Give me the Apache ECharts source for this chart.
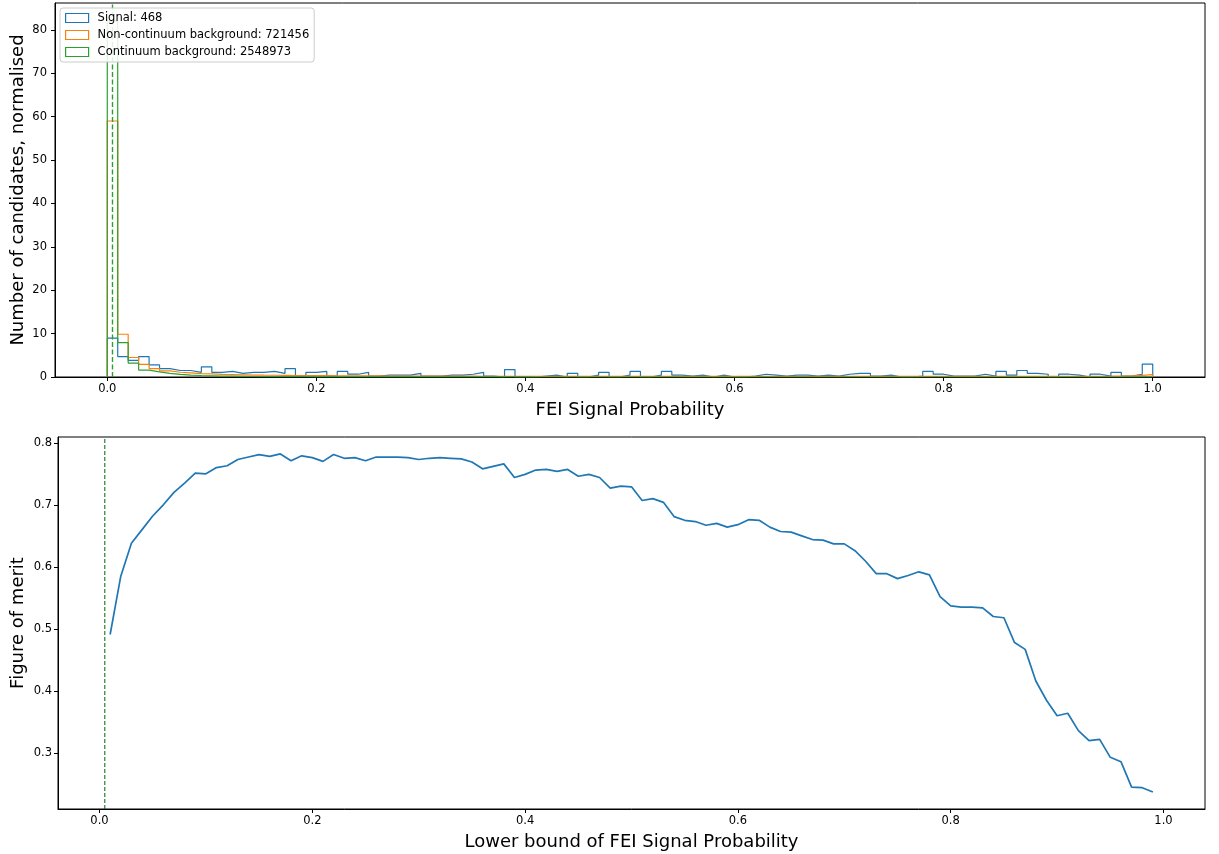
<!DOCTYPE html>
<html>
<head>
<meta charset="utf-8">
<script src="https://cdn.jsdelivr.net/npm/echarts@6/dist/echarts.min.js"></script>
<style>
html,body{margin:0;padding:0;background:#fff;}
#chart{width:1219px;height:854px;}
</style>
</head>
<body>
<div id="chart"></div>
<script>
// ---- data ----
const cuts = [0.00,0.01,0.02,0.03,0.04,0.05,0.06,0.07,0.08,0.09,0.10,0.11,0.12,0.13,0.14,0.15,0.16,0.17,0.18,0.19,0.20,0.21,0.22,0.23,0.24,0.25,0.26,0.27,0.28,0.29,0.30,0.31,0.32,0.33,0.34,0.35,0.36,0.37,0.38,0.39,0.40,0.41,0.42,0.43,0.44,0.45,0.46,0.47,0.48,0.49,0.50,0.51,0.52,0.53,0.54,0.55,0.56,0.57,0.58,0.59,0.60,0.61,0.62,0.63,0.64,0.65,0.66,0.67,0.68,0.69,0.70,0.71,0.72,0.73,0.74,0.75,0.76,0.77,0.78,0.79,0.80,0.81,0.82,0.83,0.84,0.85,0.86,0.87,0.88,0.89,0.90,0.91,0.92,0.93,0.94,0.95,0.96,0.97,0.98,0.99,1.00];

const signalHist = [8.97,4.70,3.85,4.70,2.78,1.92,1.50,1.50,1.07,2.35,
  1.07,1.28,0.85,1.07,1.07,1.28,0.85,1.92,0.21,1.07,
  1.28,0.21,1.28,0.64,1.07,0.21,0.43,0.43,0.43,0.85,
  0.21,0.21,0.43,0.43,0.64,1.07,0.21,0,1.71,0,
  0,0.21,0.43,0,0.85,0,0.43,1.07,0,0.43,
  1.28,0,0.43,1.28,0.43,0.21,0.43,0,0.43,0,
  0,0.21,0.64,0.43,0.21,0.43,0.43,0.21,0.43,0.21,
  0.64,0.85,0.85,0.21,0.43,0,0,0.21,1.28,0.64,
  0.21,0.21,0.21,0.64,0.21,1.28,0.43,1.50,0.85,0.64,
  0,0.64,0.43,0,0.64,0.21,1.07,0.21,0.64,2.99];

const nonContHist = [59.0,9.85,4.5,2.9,1.95,1.4,1.1,0.95,0.8,0.7,
  0.6,0.55,0.5,0.45,0.42,0.4,0.37,0.35,0.33,0.31,
  0.3,0.28,0.27,0.26,0.25,0.24,0.23,0.22,0.21,0.2,
  0.2,0.19,0.19,0.18,0.18,0.17,0.17,0.16,0.16,0.16,
  0.15,0.15,0.15,0.15,0.15,0.14,0.14,0.14,0.14,0.14,
  0.14,0.14,0.14,0.14,0.14,0.14,0.14,0.14,0.14,0.14,
  0.13,0.13,0.13,0.13,0.13,0.13,0.13,0.13,0.13,0.13,
  0.13,0.13,0.13,0.13,0.13,0.13,0.13,0.13,0.13,0.13,
  0.13,0.13,0.13,0.13,0.13,0.13,0.13,0.13,0.13,0.13,
  0.13,0.14,0.15,0.16,0.17,0.18,0.2,0.25,0.38,0.55];

const contHist = [82.1,7.9,3.2,1.6,1.2,0.85,0.6,0.45,0.35,0.28,
  0.22,0.18,0.15,0.12,0.1,0.09,0.08,0.07,0.06,0.05,
  0.04,0.04,0.03,0.03,0.03,0.02,0.02,0.02,0.02,0.02,
  0.01,0.01,0.01,0.01,0.01,0.01,0.01,0.01,0.01,0.01,
  0,0,0,0,0,0,0,0,0,0,
  0,0,0,0,0,0,0,0,0,0,
  0,0,0,0,0,0,0,0,0,0,
  0,0,0,0,0,0,0,0,0,0,
  0,0,0,0,0,0,0,0,0,0,
  0,0,0,0,0,0,0,0,0,0];

const fom = [0.491,0.585,0.638,0.660,0.682,0.700,0.720,0.735,0.751,0.750,
  0.760,0.763,0.773,0.777,0.781,0.778,0.782,0.771,0.779,0.776,
  0.770,0.781,0.775,0.776,0.771,0.777,0.777,0.777,0.776,0.773,
  0.775,0.776,0.775,0.774,0.769,0.758,0.762,0.766,0.744,0.749,
  0.756,0.757,0.754,0.757,0.746,0.749,0.744,0.727,0.730,0.729,
  0.707,0.710,0.704,0.681,0.675,0.673,0.667,0.670,0.664,0.668,
  0.676,0.675,0.664,0.657,0.656,0.650,0.644,0.643,0.637,0.637,
  0.626,0.609,0.589,0.589,0.581,0.586,0.592,0.587,0.552,0.537,
  0.535,0.535,0.534,0.520,0.518,0.478,0.467,0.416,0.385,0.360,
  0.364,0.336,0.320,0.322,0.293,0.286,0.245,0.244,0.237];

const seriesNames = ['Signal: 468','Non-continuum background: 721456','Continuum background: 2548973'];
const seriesColors = ['#1f77b4','#ff7f0e','#2ca02c'];
const xTicks = [0.0,0.2,0.4,0.6,0.8,1.0];
const yTicksTop = [0,10,20,30,40,50,60,70,80];
const yTicksBottom = [0.3,0.4,0.5,0.6,0.7,0.8];
const cutValue = 0.005;

// axis ranges (layout)
const topX = [-0.05, 1.05], topY = [0, 86.2];
const botX = [-0.039, 1.039], botY = [0.2097, 0.8093];

// ---- build ----
function stepOutline(vals){
  const pts = [[cuts[0],0]];
  for(let i=0;i<vals.length;i++){
    pts.push([cuts[i],vals[i]]);
    pts.push([cuts[i+1],vals[i]]);
  }
  pts.push([cuts[vals.length],0]);
  return pts;
}
const fomData = fom.map((v,i)=>[cuts[i+1],v]);

const FONT = 'DejaVu Sans';
const tickFs = 11.5, nameFs = 18;

function xAx(gi,rng,name){
  return {
    type:'value', gridIndex:gi, min:rng[0], max:rng[1],
    name:name, nameLocation:'middle', nameGap:24,
    nameTextStyle:{fontFamily:FONT,fontSize:nameFs,color:'#000'},
    axisLine:{show:true,onZero:false,lineStyle:{color:'#000',width:1}},
    axisTick:{show:true,inside:false,length:4,lineStyle:{color:'#000'},customValues:xTicks},
    axisLabel:{fontFamily:FONT,fontSize:tickFs,color:'#000',margin:6,customValues:xTicks,
      formatter:v=>Number(v).toFixed(1)},
    splitLine:{show:false}
  };
}
function yAx(gi,rng,name,ticks,fmt,gap,margin){
  return {
    type:'value', gridIndex:gi, min:rng[0], max:rng[1],
    name:name, nameLocation:'middle', nameGap:gap, nameMoveOverlap:false,
    nameTextStyle:{fontFamily:FONT,fontSize:nameFs,color:'#000'},
    axisLine:{show:true,onZero:false,lineStyle:{color:'#000',width:1}},
    axisTick:{show:true,inside:false,length:4,lineStyle:{color:'#000'},customValues:ticks},
    axisLabel:{fontFamily:FONT,fontSize:tickFs,color:'#000',margin:margin,customValues:ticks,formatter:fmt},
    splitLine:{show:false}
  };
}

const histSeries = [signalHist,nonContHist,contHist].map((h,k)=>({
  type:'line', name:seriesNames[k], xAxisIndex:0, yAxisIndex:0,
  data:stepOutline(h), showSymbol:false, symbol:'none',
  lineStyle:{color:seriesColors[k],width:1.2},
  itemStyle:{color:seriesColors[k]},
  animation:false, silent:true, z:2
}));

const option = {
  backgroundColor:'#fff',
  animation:false,
  grid:[
    {left:55,top:3,right:14,height:374,outerBoundsMode:'none',containLabel:false,show:true,borderColor:'#000',borderWidth:1,backgroundColor:'transparent'},
    {left:58,top:437,right:14,height:372,outerBoundsMode:'none',containLabel:false,show:true,borderColor:'#000',borderWidth:1,backgroundColor:'transparent'}
  ],
  xAxis:[
    xAx(0,topX,'FEI Signal Probability'),
    xAx(1,botX,'Lower bound of FEI Signal Probability')
  ],
  yAxis:[
    yAx(0,topY,'Number of candidates, normalised',yTicksTop,v=>String(Math.round(v)),28,8),
    yAx(1,botY,'Figure of merit',yTicksBottom,v=>Number(v).toFixed(1),31,6)
  ],
  legend:{
    left:60, top:8, orient:'vertical', z:20,
    padding:[3.5,5,3.5,5], itemGap:4, itemWidth:23, itemHeight:9,
    backgroundColor:'rgba(255,255,255,0.85)', borderColor:'#cccccc', borderWidth:1, borderRadius:3,
    selectedMode:false,
    textStyle:{fontFamily:FONT,fontSize:tickFs,color:'#000',lineHeight:13,padding:[0,0,0,4]},
    data:seriesNames.map((n,k)=>({name:n,icon:'rect',
      itemStyle:{color:'rgba(0,0,0,0)',borderColor:seriesColors[k],borderWidth:1.2}}))
  },
  series:[
    ...histSeries,
    {
      type:'line', name:'cutTop', xAxisIndex:0, yAxisIndex:0,
      data:[[cutValue,topY[0]],[cutValue,topY[1]]], showSymbol:false, symbol:'none',
      lineStyle:{color:'#2ca02c',type:[5,2.5],width:1.4},
      animation:false, silent:true, z:3
    },
    {
      type:'line', name:'fom', xAxisIndex:1, yAxisIndex:1,
      data:fomData, showSymbol:false, symbol:'none',
      lineStyle:{color:'#1f77b4',width:1.7}, itemStyle:{color:'#1f77b4'},
      animation:false, silent:true, z:2
    },
    {
      type:'line', name:'cutBottom', xAxisIndex:1, yAxisIndex:1,
      data:[[cutValue,botY[0]],[cutValue,botY[1]]], showSymbol:false, symbol:'none',
      lineStyle:{color:'#006400',type:[4,2],width:1},
      animation:false, silent:true, z:3
    }
  ]
};
const chart = echarts.init(document.getElementById('chart'),null,{renderer:'canvas'});
chart.setOption(option);
</script>
</body>
</html>
